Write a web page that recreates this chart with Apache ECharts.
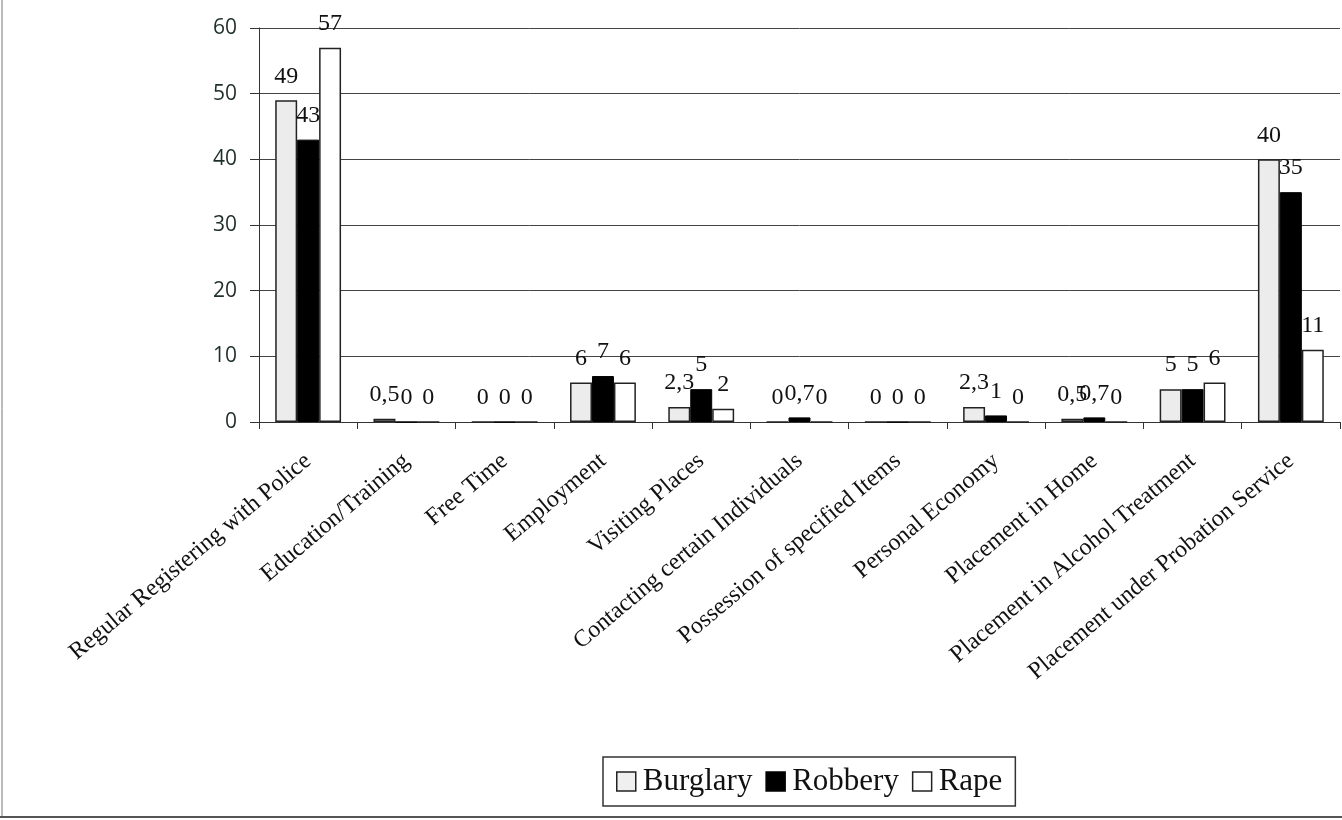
<!DOCTYPE html>
<html>
<head>
<meta charset="utf-8">
<script src="https://cdn.jsdelivr.net/npm/echarts@6/dist/echarts.min.js"></script>
<style>
html,body{margin:0;padding:0;background:#fff;}
#chart{width:1342px;height:820px;}
</style>
</head>
<body>
<div id="chart"></div>
<script>
const categories = [
  "Regular Registering with Police",
  "Education/Training",
  "Free Time",
  "Employment",
  "Visiting Places",
  "Contacting certain Individuals",
  "Possession of specified Items",
  "Personal Economy",
  "Placement in Home",
  "Placement in Alcohol Treatment",
  "Placement under Probation Service"
];
const burglary = [49, 0.5, 0, 6, 2.3, 0, 0, 2.3, 0.5, 5, 40];
const robbery  = [43, 0, 0, 7, 5, 0.7, 0, 1, 0.7, 5, 35];
const rape     = [57, 0, 0, 6, 2, 0, 0, 0, 0, 6, 11];
const yTicks = [0, 10, 20, 30, 40, 50, 60];

const serif = "'Liberation Serif', 'DejaVu Serif', serif";
const chart = echarts.init(document.getElementById('chart'), null, {renderer: 'canvas'});

function labelCfg() {
  return {
    show: true,
    position: 'top',
    distance: 12,
    fontFamily: serif,
    fontSize: 24,
    color: '#111',
    formatter: p => String(p.value).replace('.', ',')
  };
}

const common = {
  type: 'bar',
  barGap: '0%',
  barCategoryGap: '33%',
  label: labelCfg()
};

chart.setOption({
  backgroundColor: '#fff',
  animation: false,
  grid: {left: 259, right: 2, top: 28, bottom: 398, containLabel: false},
  xAxis: {
    type: 'category',
    data: categories,
    axisLine: {lineStyle: {color: '#333', width: 1}},
    axisTick: {show: true, alignWithLabel: false, length: 7, lineStyle: {color: '#333'}},
    axisLabel: {
      rotate: 40,
      interval: 0,
      margin: 36,
      fontFamily: serif,
      fontSize: 24,
      color: '#111'
    },
    splitLine: {show: false}
  },
  yAxis: {
    type: 'value',
    min: yTicks[0],
    max: yTicks[yTicks.length - 1],
    interval: 10,
    axisLine: {show: true, lineStyle: {color: '#333', width: 1}},
    axisTick: {show: true, inside: false, length: 9, lineStyle: {color: '#333'}},
    axisLabel: {
      margin: 22,
      fontFamily: "'Open Sans', 'DejaVu Sans', sans-serif",
      fontSize: 21,
      color: '#1f2f2a'
    },
    splitLine: {show: true, lineStyle: {color: '#444', width: 1}}
  },
  legend: {
    left: 603,
    top: 757,
    orient: 'horizontal',
    itemWidth: 19,
    itemHeight: 19,
    itemGap: 13,
    padding: [9, 13, 9, 13],
    borderColor: '#333',
    borderWidth: 1.5,
    textStyle: {fontFamily: serif, fontSize: 31, color: '#111', padding: [0, 0, 0, 2]},
    data: [
      {name: 'Burglary', icon: 'rect', itemStyle: {color: '#efefef', borderColor: '#222', borderWidth: 1.5}},
      {name: 'Robbery', icon: 'rect', itemStyle: {color: '#000', borderColor: '#000', borderWidth: 1.5}},
      {name: 'Rape', icon: 'rect', itemStyle: {color: '#fff', borderColor: '#222', borderWidth: 1.5}}
    ]
  },
  graphic: [
    {type: 'line', shape: {x1: 2, y1: 0, x2: 2, y2: 817}, style: {stroke: '#777', lineWidth: 1}},
    {type: 'line', shape: {x1: 0, y1: 817, x2: 1342, y2: 817}, style: {stroke: '#555', lineWidth: 2}}
  ],
  series: [
    Object.assign({}, common, {
      name: 'Burglary', data: burglary,
      itemStyle: {color: '#ececec', borderColor: '#222', borderWidth: 1.5}
    }),
    Object.assign({}, common, {
      name: 'Robbery', data: robbery,
      itemStyle: {color: '#000', borderColor: '#000', borderWidth: 1}
    }),
    Object.assign({}, common, {
      name: 'Rape', data: rape,
      itemStyle: {color: '#fff', borderColor: '#222', borderWidth: 1.5}
    })
  ]
});
</script>
</body>
</html>
